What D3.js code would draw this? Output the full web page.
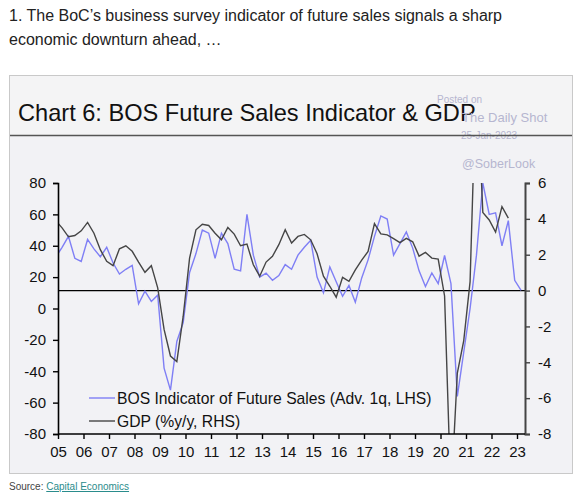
<!DOCTYPE html>
<html>
<head>
<meta charset="utf-8">
<script src="https://cdn.jsdelivr.net/npm/d3@7"></script>
<style>
  html, body { margin: 0; padding: 0; background: #ffffff; }
  svg { display: block; }
  text { font-family: "Liberation Sans", Arial, Helvetica, sans-serif; }
</style>
</head>
<body>
<script>
// ---------------- DATA ----------------
// Quarterly observations starting 2004Q4 (plotted mid-quarter)
const startYear = 2004, startQuarter = 4;
// BOS Indicator of Future Sales (advanced 1 quarter, LHS)
const bosValues = [32.7, 39, 46, 32, 30, 44, 38, 33, 39, 29, 22, 25, 27.5, 3, 11, 4.5, 8.5, -38, -52, -21,
  -9, 23, 35, 50, 48, 32, 48, 41.4, 25, 24, 60, 34, 20, 22.6, 18, 21, 28, 25, 34, 39,
  43.5, 20, 10, 26.5, 17, 7.8, 14.7, 4, 19.5, 31, 46, 59, 57, 34, 41.4, 48.8, 38.5, 24, 14, 22.7,
  15.8, 33.8, 15.8, -56, -28, 0, 34, 80, 60, 61, 40, 56, 18, 11.5];
// GDP %y/y (RHS)
const gdpValues = [3.9, 3.5, 3.0, 3.07, 3.33, 3.8, 3.2, 2.28, 1.63, 1.39, 2.33, 2.5, 2.19, 1.59, 1.02, 1.39, 0.15, -2.17, -3.65, -3.96,
  -1.43, 1.81, 3.39, 3.7, 3.63, 3.2, 2.83, 3.52, 3.15, 2.5, 2.59, 1.44, 0.8, 1.59, 1.91, 2.56, 3.39, 2.65, 3.02, 3.13,
  2.83, 2.05, 0.8, 0.24, -0.37, 0.74, 0.52, 1.15, 1.7, 2.18, 3.74, 3.16, 3.11, 2.9, 2.67, 2.91, 2.72, 1.92, 2.13, 1.81,
  1.76, -0.3, -11.5, -4.6, -2.8, 0.5, 12.5, 4.35, 3.94, 3.26, 4.68, 4.04];
const xTickYears = [2005, 2006, 2007, 2008, 2009, 2010, 2011, 2012, 2013, 2014, 2015, 2016, 2017, 2018, 2019, 2020, 2021, 2022, 2023];
const xTickLabels = ["05", "06", "07", "08", "09", "10", "11", "12", "13", "14", "15", "16", "17", "18", "19", "20", "21", "22", "23"];
const leftTicks = [80, 60, 40, 20, 0, -20, -40, -60, -80];
const rightTicks = [6, 4, 2, 0, -2, -4, -6, -8];
const seriesNames = ["BOS Indicator of Future Sales (Adv. 1q, LHS)", "GDP (%y/y, RHS)"];
const headline = ["1. The BoC\u2019s business survey indicator of future sales signals a sharp", "economic downturn ahead, \u2026"];
const chartTitle = "Chart 6: BOS Future Sales Indicator & GDP";
const watermark = ["Posted on", "The Daily Shot", "25-Jan-2023", "@SoberLook"];

// decimal-year position of each quarter (mid-quarter)
function qTime(i) {
  const q0 = (startQuarter - 1) + i;
  return startYear + Math.floor(q0 / 4) + (q0 % 4) * 0.25 + 0.16;
}

// ---------------- LAYOUT ----------------
const W = 581, H = 500;
const plot = { left: 58, right: 525, top: 183, bottom: 434 };
const svg = d3.select("body").append("svg").attr("width", W).attr("height", H);

// Headline text
headline.forEach((t, i) => {
  svg.append("text").attr("x", 9).attr("y", 21 + i * 24)
    .attr("font-size", 16).attr("fill", "#222").text(t);
});

// chart frame
svg.append("rect").attr("x", 9.5).attr("y", 75.5).attr("width", 563).attr("height", 398)
  .attr("fill", "#f2f2f5").attr("stroke", "#c9c9c9").attr("stroke-width", 1);
svg.append("rect").attr("x", 10).attr("y", 76).attr("width", 562).attr("height", 59)
  .attr("fill", "#f4f4f5");

svg.append("text").attr("x", 18).attr("y", 121).attr("font-size", 23.6).attr("fill", "#111").text(chartTitle);

// watermark
const wm = [
  { x: 437, y: 103, s: 10 },
  { x: 462, y: 122, s: 13 },
  { x: 461, y: 139, s: 10 },
  { x: 462, y: 168, s: 12.5 }
];
watermark.forEach((t, i) => {
  svg.append("text").attr("x", wm[i].x).attr("y", wm[i].y).attr("font-size", wm[i].s)
    .attr("fill", "#b6b6d0").text(t);
});

svg.append("line").attr("x1", 10).attr("x2", 572).attr("y1", 135.5).attr("y2", 135.5)
  .attr("stroke", "#555").attr("stroke-width", 1.5);

// ---------------- SCALES ----------------
const x = d3.scaleLinear().domain([2005, 2023]).range([58, 517]);
const yL = d3.scaleLinear().domain([-80, 80]).range([plot.bottom, plot.top]);
const yR = d3.scaleLinear().domain([-8, 6]).range([plot.bottom, plot.top]);

svg.append("defs").append("clipPath").attr("id", "clip")
  .append("rect").attr("x", plot.left).attr("y", plot.top)
  .attr("width", plot.right - plot.left).attr("height", plot.bottom - plot.top);

// zero line (RHS 0)
svg.append("line").attr("x1", plot.left).attr("x2", plot.right)
  .attr("y1", yR(0)).attr("y2", yR(0)).attr("stroke", "#000").attr("stroke-width", 1.2);

const g = svg.append("g").attr("clip-path", "url(#clip)");
const bosLine = d3.line().x((d, i) => x(qTime(i))).y(d => yL(d));
const gdpLine = d3.line().x((d, i) => x(qTime(i))).y(d => yR(d));

g.append("path").datum(bosValues).attr("d", bosLine)
  .attr("fill", "none").attr("stroke", "#7f7ff5").attr("stroke-width", 1.4);
g.append("path").datum(gdpValues).attr("d", gdpLine)
  .attr("fill", "none").attr("stroke", "#454545").attr("stroke-width", 1.4);

// ---------------- AXES ----------------
const axisFont = 15;
const gl = svg.append("g").attr("transform", `translate(${plot.left},0)`)
  .call(d3.axisLeft(yL).tickValues(leftTicks).tickSize(5).tickPadding(7).tickFormat(d => String(d)));
gl.select(".domain").attr("stroke", "#000").attr("stroke-width", 1.6);
gl.selectAll(".tick line").attr("stroke", "#000").attr("stroke-width", 1.4);
gl.selectAll("text").attr("font-size", axisFont).attr("fill", "#111")
  .attr("font-family", "Liberation Sans, Arial, sans-serif");

const gr = svg.append("g").attr("transform", `translate(${plot.right},0)`)
  .call(d3.axisRight(yR).tickValues(rightTicks).tickSize(5).tickPadding(8).tickFormat(d => String(d)));
gr.select(".domain").attr("stroke", "#444").attr("stroke-width", 2);
gr.selectAll(".tick line").attr("stroke", "#444").attr("stroke-width", 1.4);
gr.selectAll("text").attr("font-size", axisFont).attr("fill", "#111")
  .attr("font-family", "Liberation Sans, Arial, sans-serif");

const xAxis = d3.axisBottom(x).tickValues(xTickYears).tickSize(5).tickPadding(7)
  .tickFormat((d, i) => xTickLabels[i]);
const gx = svg.append("g").attr("transform", `translate(0,${plot.bottom})`).call(xAxis);
gx.select(".domain").remove();
gx.append("line").attr("x1", plot.left).attr("x2", plot.right).attr("y1", 0).attr("y2", 0)
  .attr("stroke", "#000").attr("stroke-width", 1.6);
gx.selectAll(".tick line").attr("stroke", "#000").attr("stroke-width", 1.4);
gx.selectAll("text").attr("font-size", axisFont).attr("fill", "#111")
  .attr("font-family", "Liberation Sans, Arial, sans-serif");

// ---------------- LEGEND ----------------
const legColors = ["#7f7ff5", "#454545"];
seriesNames.forEach((name, i) => {
  const ly = 398 + i * 23;
  svg.append("line").attr("x1", 89).attr("x2", 115).attr("y1", ly).attr("y2", ly)
    .attr("stroke", legColors[i]).attr("stroke-width", 1.4);
  svg.append("text").attr("x", 117).attr("y", ly + 5.5).attr("font-size", 15.7)
    .attr("fill", "#111").text(name);
});

// ---------------- SOURCE ----------------
const src = svg.append("text").attr("x", 9).attr("y", 490).attr("font-size", 10);
src.append("tspan").attr("fill", "#444").text("Source: ");
src.append("tspan").attr("fill", "#2a8c8c").attr("text-decoration", "underline").text("Capital Economics");
</script>
</body>
</html>
